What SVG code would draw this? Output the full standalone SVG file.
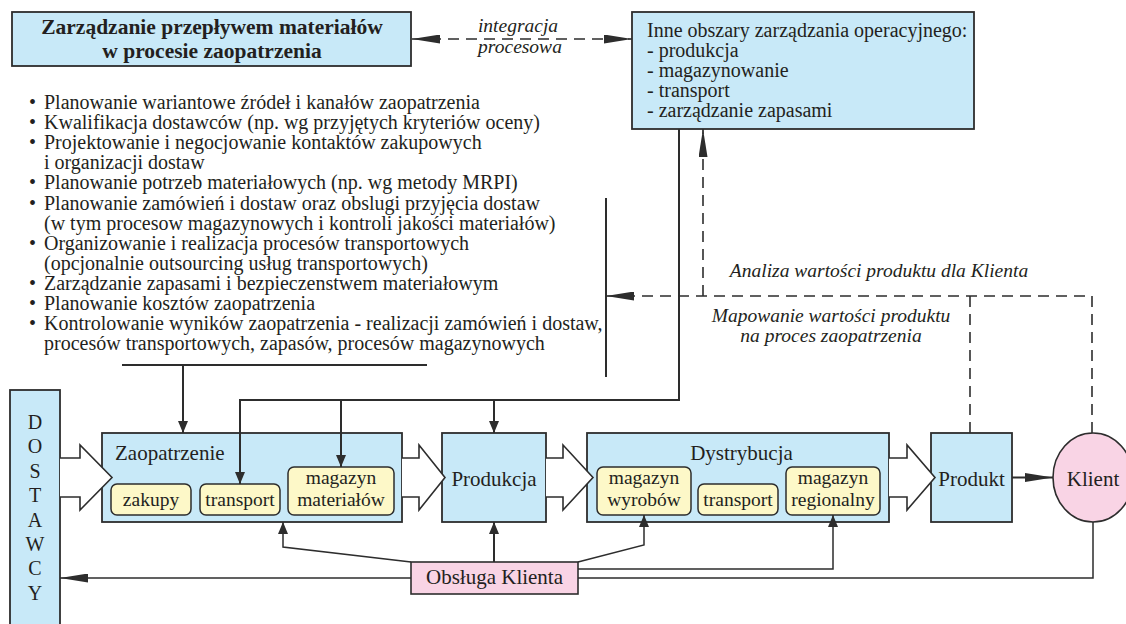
<svg xmlns="http://www.w3.org/2000/svg" width="1126" height="624" viewBox="0 0 1126 624">
<style>
text{font-family:"Liberation Serif","Times New Roman",serif;fill:#231f20}
.box{fill:#c8e9f8;stroke:#2d2d2d;stroke-width:1.8}
.sub{fill:#fdf8c8;stroke:#2d2d2d;stroke-width:1.5}
.pink{fill:#f9d4e5;stroke:#2d2d2d;stroke-width:1.6}
.title{font-size:21.5px;font-weight:bold;text-anchor:middle}
.lbl{font-size:21px;text-anchor:middle}
.sl{font-size:19.5px;text-anchor:middle}
.body{font-size:20px}
.it{font-style:italic;font-size:19.5px;text-anchor:middle}
.ln{fill:none;stroke:#2d2d2d;stroke-width:2}
.thin{fill:none;stroke:#2d2d2d;stroke-width:1.5}
.dash{fill:none;stroke:#2d2d2d;stroke-width:1.6;stroke-dasharray:11 7}
.blk{fill:#fff;stroke:#2d2d2d;stroke-width:1.6;stroke-linejoin:miter}
</style>
<defs>
<marker id="ah" markerUnits="userSpaceOnUse" viewBox="0 0 12 10" refX="12" refY="5" markerWidth="12" markerHeight="10" orient="auto"><path d="M0,0L12,5L0,10z" fill="#2d2d2d"/></marker>
<marker id="al" markerUnits="userSpaceOnUse" viewBox="0 0 28 9" refX="28" refY="4.5" markerWidth="28" markerHeight="9" orient="auto-start-reverse"><path d="M0,0L28,4.5L0,9z" fill="#2d2d2d"/></marker>
</defs>
<rect width="1126" height="624" fill="#fff"/>

<!-- header: procurement material flow -->
<g id="n-header">
<rect class="box" x="12" y="12" width="399" height="54"/>
<text class="title" x="212" y="34">Zarządzanie przepływem materiałów</text>
<text class="title" x="212" y="58">w procesie zaopatrzenia</text>
</g>

<!-- other operational management areas -->
<g id="n-other">
<rect class="box" x="632" y="12" width="342" height="117"/>
<text class="body" x="647" y="37">Inne obszary zarządzania operacyjnego:</text>
<text class="body" x="647" y="57">- produkcja</text>
<text class="body" x="647" y="77">- magazynowanie</text>
<text class="body" x="647" y="97">- transport</text>
<text class="body" x="647" y="117">- zarządzanie zapasami</text>
</g>

<!-- list of procurement tasks -->
<g id="n-tasks" class="body">
<text x="29" y="109">•</text><text x="44" y="109">Planowanie wariantowe źródeł i kanałów zaopatrzenia</text>
<text x="29" y="129.1">•</text><text x="44" y="129.1">Kwalifikacja dostawców (np. wg przyjętych kryteriów oceny)</text>
<text x="29" y="149.2">•</text><text x="44" y="149.2">Projektowanie i negocjowanie kontaktów zakupowych</text>
<text x="44" y="169.3">i organizacji dostaw</text>
<text x="29" y="189.4">•</text><text x="44" y="189.4">Planowanie potrzeb materiałowych (np. wg metody MRPI)</text>
<text x="29" y="209.5">•</text><text x="44" y="209.5">Planowanie zamówień i dostaw oraz obslugi przyjęcia dostaw</text>
<text x="44" y="229.6">(w tym procesow magazynowych i kontroli jakości materiałów)</text>
<text x="29" y="249.7">•</text><text x="44" y="249.7">Organizowanie i realizacja procesów transportowych</text>
<text x="44" y="269.8">(opcjonalnie outsourcing usług transportowych)</text>
<text x="29" y="289.9">•</text><text x="44" y="289.9">Zarządzanie zapasami i bezpieczenstwem materiałowym</text>
<text x="29" y="310">•</text><text x="44" y="310">Planowanie kosztów zaopatrzenia</text>
<text x="29" y="330.1">•</text><text x="44" y="330.1">Kontrolowanie wyników zaopatrzenia - realizacji zamówień i dostaw,</text>
<text x="44" y="350.2">procesów transportowych, zapasów, procesów magazynowych</text>
</g>

<!-- suppliers -->
<g id="n-dostawcy">
<rect class="box" x="10" y="390" width="50" height="245"/>
<g class="lbl" style="font-size:20px">
<text x="35" y="429">D</text>
<text x="35" y="453">O</text>
<text x="35" y="478">S</text>
<text x="35" y="502">T</text>
<text x="35" y="527">A</text>
<text x="35" y="551">W</text>
<text x="35" y="575">C</text>
<text x="35" y="600">Y</text>
</g>
</g>

<!-- procurement -->
<g id="n-zaopatrzenie">
<rect class="box" x="102" y="433" width="300" height="89"/>
<text class="lbl" x="115" y="460" style="text-anchor:start">Zaopatrzenie</text>
<rect class="sub" x="111" y="484" width="80" height="31" rx="6"/>
<text class="sl" x="151" y="506">zakupy</text>
<rect class="sub" x="200" y="484" width="80" height="31" rx="6"/>
<text class="sl" x="240" y="506">transport</text>
<rect class="sub" x="288" y="467" width="106" height="48" rx="6"/>
<text class="sl" x="341" y="484">magazyn</text>
<text class="sl" x="341" y="506">materiałów</text>
</g>

<!-- production -->
<g id="n-produkcja">
<rect class="box" x="442" y="433" width="104" height="89"/>
<text class="lbl" x="494" y="486">Produkcja</text>
</g>

<!-- distribution -->
<g id="n-dystrybucja">
<rect class="box" x="587" y="433" width="302" height="89"/>
<text class="lbl" x="741.5" y="460">Dystrybucja</text>
<rect class="sub" x="597" y="467" width="94" height="48" rx="6"/>
<text class="sl" x="644" y="484">magazyn</text>
<text class="sl" x="644" y="506">wyrobów</text>
<rect class="sub" x="698" y="484" width="80" height="31" rx="6"/>
<text class="sl" x="738" y="506">transport</text>
<rect class="sub" x="786" y="467" width="94" height="48" rx="6"/>
<text class="sl" x="833" y="484">magazyn</text>
<text class="sl" x="833" y="506">regionalny</text>
</g>

<!-- product -->
<g id="n-produkt">
<rect class="box" x="931" y="433" width="81" height="89"/>
<text class="lbl" x="971.5" y="486">Produkt</text>
</g>

<!-- customer -->
<g id="n-klient">
<ellipse class="pink" cx="1093" cy="477.5" rx="40" ry="44.5"/>
<text class="lbl" x="1093" y="486">Klient</text>
</g>

<!-- customer service -->
<g id="n-obsluga">
<rect class="pink" x="411" y="562" width="167" height="32"/>
<text class="lbl" x="494.5" y="584">Obsługa Klienta</text>
</g>

<g id="connectors">
<!-- process integration -->
<line class="dash" x1="412" y1="39" x2="632" y2="39" marker-start="url(#al)" marker-end="url(#al)"/>
<text class="it" x="518" y="32">integracja</text>
<text class="it" x="520" y="53">procesowa</text>

<!-- tasks feed procurement -->
<path class="ln" d="M122,365H427"/>
<path class="ln" d="M183,365V433" marker-end="url(#ah)"/>

<!-- operational areas feed the chain -->
<path class="ln" d="M679,129V400H240V484" marker-end="url(#ah)"/>
<path class="ln" d="M341,400V467" marker-end="url(#ah)"/>
<path class="ln" d="M494,400V433" marker-end="url(#ah)"/>

<!-- value analysis / mapping feedback -->
<path class="ln" d="M606,198V377"/>
<path class="dash" d="M1092,433V296H606" marker-end="url(#al)"/>
<path class="dash" d="M970,433V296"/>
<path class="dash" d="M703,296V129" marker-end="url(#al)"/>
<text class="it" x="879" y="277">Analiza wartości produktu dla Klienta</text>
<text class="it" x="831" y="322">Mapowanie wartości produktu</text>
<text class="it" x="831" y="342">na proces zaopatrzenia</text>

<!-- product to customer -->
<path class="ln" d="M1012,477.5H1053" marker-end="url(#al)"/>

<!-- customer back to suppliers -->
<path class="thin" d="M1093,522V578H578"/>
<path class="thin" d="M411,578H60" marker-end="url(#al)"/>

<!-- customer service links -->
<path class="thin" d="M411,562L283,547V522" marker-end="url(#ah)"/>
<path class="ln" d="M494,562V522" marker-end="url(#ah)"/>
<path class="thin" d="M578,562L644,545V515" marker-end="url(#ah)"/>
<path class="thin" d="M578,569H833V515" marker-end="url(#ah)"/>

<!-- material flow block arrows -->
<path class="blk" d="M60,458H80V445L112,477.5L80,510V497H60"/>
<path class="blk" d="M402,458H419V445L445,477.5L419,510V497H402"/>
<path class="blk" d="M546,458H563V445L593,477.5L563,510V497H546"/>
<path class="blk" d="M889,458H907V445L935,477.5L907,510V497H889"/>
</g>
</svg>
